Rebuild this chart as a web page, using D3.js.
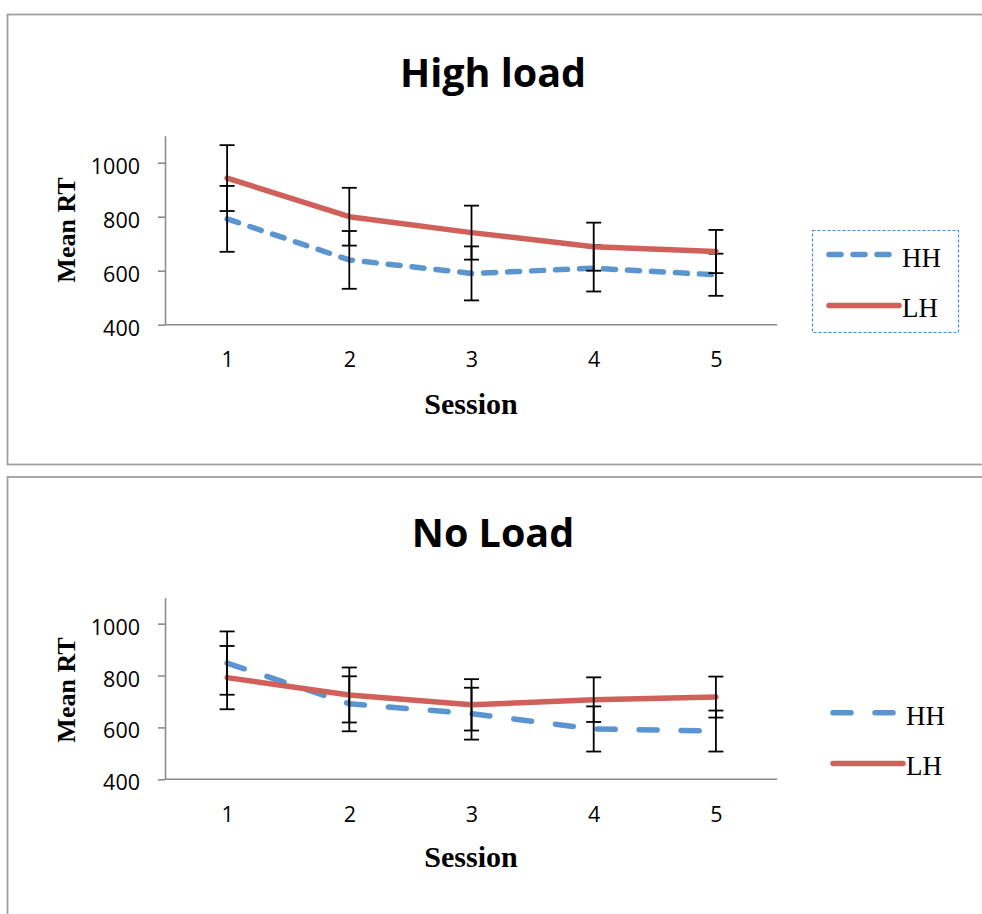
<!DOCTYPE html>
<html>
<head>
<meta charset="utf-8">
<script src="https://cdn.jsdelivr.net/npm/d3@7"></script>
<style>
  html, body { margin: 0; padding: 0; background: #fff; }
  svg { display: block; }
</style>
</head>
<body>
<svg id="chart" width="982" height="914"></svg>
<script>
// Mean reaction times per session, with error bar half-widths
const sessions = [1, 2, 3, 4, 5];
const yTicks = [400, 600, 800, 1000];
const seriesNames = ["HH", "LH"];

const highHH = [792, 640, 590, 609, 585];
const highLH = [943, 800, 741, 689, 671];
const highHHErr = [122, 107, 100, 86, 78];
const highLHErr = [122, 107, 100, 89, 80];

const noHH = [848, 691, 653, 594, 586];
const noLH = [792, 725, 687, 707, 717];
const noHHErr = [122, 106, 100, 87, 79];
const noLHErr = [122, 106, 99, 86, 79];

const blue = "#5B95CF";
const red = "#CF605A";
const axisGray = "#8C8C8C";

const svg = d3.select("#chart");

const panels = [
  {
    title: "High load",
    hh: highHH, lh: highLH, hhErr: highHHErr, lhErr: highLHErr,
    frameTop: 14.5, frameH: 450,
    titleY: 87,
    yRange: [324.7, 135.7],
    sessionY: 414, meanY: 230,
    hhDash: "12 12",
    legend: { boxed: true, x0: 829, x1: 897, hhY: 254.5, lhY: 305.5, textX: 902, hhTextY: 266.5, lhTextY: 316.5,
              box: [812, 230, 146, 102] }
  },
  {
    title: "No Load",
    hh: noHH, lh: noLH, hhErr: noHHErr, lhErr: noLHErr,
    frameTop: 477, frameH: 500,
    titleY: 546.5,
    yRange: [779.3, 597.7],
    sessionY: 867, meanY: 690,
    hhDash: "18 24",
    legend: { boxed: false, x0: 833, x1: 901, hhY: 712.7, lhY: 763.5, textX: 906, hhTextY: 725, lhTextY: 775 }
  }
];

const x = d3.scalePoint().domain(sessions).range([166, 777]).padding(0.5);

panels.forEach(p => {
  const g = svg.append("g");

  // chart frame (runs past the right edge)
  g.append("rect")
    .attr("x", 7.5).attr("y", p.frameTop)
    .attr("width", 1000).attr("height", p.frameH)
    .attr("fill", "none").attr("stroke", "#A0A0A0").attr("stroke-width", 1.8);

  const y = d3.scaleLinear().domain([400, 1100]).range(p.yRange);

  // title
  g.append("text")
    .attr("x", 493).attr("y", p.titleY)
    .attr("text-anchor", "middle")
    .attr("font-family", "'Open Sans', sans-serif")
    .attr("font-weight", 700)
    .attr("font-size", 39.5)
    .attr("fill", "#000")
    .text(p.title);

  // y axis
  const yAxis = g.append("g")
    .attr("transform", `translate(165,0)`)
    .call(d3.axisLeft(y).tickValues(yTicks).tickFormat(d3.format("d"))
      .tickSize(7).tickSizeOuter(0).tickPadding(18));
  yAxis.select(".domain").attr("stroke", axisGray).attr("stroke-width", 1.6);
  yAxis.selectAll(".tick line").attr("stroke", axisGray).attr("stroke-width", 1.6);
  yAxis.selectAll(".tick text")
    .attr("dy", "0.49em")
    .attr("font-family", "'Open Sans', sans-serif")
    .attr("font-size", 21.5)
    .attr("fill", "#000");

  // x axis
  const xAxis = g.append("g")
    .attr("transform", `translate(0,${p.yRange[0]})`)
    .call(d3.axisBottom(x).tickSize(0).tickSizeOuter(0).tickPadding(27));
  xAxis.select(".domain").attr("stroke", axisGray).attr("stroke-width", 1.6)
    .attr("d", `M165,0H777`);
  xAxis.selectAll(".tick text")
    .attr("font-family", "'Open Sans', sans-serif")
    .attr("font-size", 21.5)
    .attr("fill", "#000");

  // axis titles
  g.append("text")
    .attr("transform", `translate(75,${p.meanY}) rotate(-90)`)
    .attr("text-anchor", "middle")
    .attr("font-family", "'Liberation Serif', 'Times New Roman', serif")
    .attr("font-weight", 700)
    .attr("font-size", 26)
    .text("Mean RT");

  g.append("text")
    .attr("x", 471).attr("y", p.sessionY)
    .attr("text-anchor", "middle")
    .attr("font-family", "'Liberation Serif', 'Times New Roman', serif")
    .attr("font-weight", 700)
    .attr("font-size", 30)
    .text("Session");

  const line = d3.line().x((d, i) => x(sessions[i])).y(d => y(d));

  const drawErr = (vals, errs) => {
    const eg = g.append("g").attr("stroke", "#000").attr("stroke-width", 1.8);
    vals.forEach((v, i) => {
      const cx = x(sessions[i]);
      const hi = y(v + errs[i]), lo = y(v - errs[i]);
      eg.append("line").attr("x1", cx).attr("x2", cx).attr("y1", hi).attr("y2", lo);
      eg.append("line").attr("x1", cx - 7.5).attr("x2", cx + 7.5).attr("y1", hi).attr("y2", hi);
      eg.append("line").attr("x1", cx - 7.5).attr("x2", cx + 7.5).attr("y1", lo).attr("y2", lo);
    });
  };

  // HH series (dashed) and its error bars
  g.append("path").datum(p.hh)
    .attr("d", line)
    .attr("fill", "none").attr("stroke", blue).attr("stroke-width", 5.5)
    .attr("stroke-dasharray", p.hhDash).attr("stroke-linecap", "round").attr("stroke-linejoin", "round");
  drawErr(p.hh, p.hhErr);

  // LH series (solid) and its error bars
  g.append("path").datum(p.lh)
    .attr("d", line)
    .attr("fill", "none").attr("stroke", red).attr("stroke-width", 5.5)
    .attr("stroke-linecap", "round").attr("stroke-linejoin", "round");
  drawErr(p.lh, p.lhErr);

  // legend
  const L = p.legend;
  const lg = g.append("g");
  if (L.boxed) {
    lg.append("rect")
      .attr("x", L.box[0] + 0.5).attr("y", L.box[1] + 0.5)
      .attr("width", L.box[2]).attr("height", L.box[3])
      .attr("fill", "none").attr("stroke", "#4A86D6").attr("stroke-width", 1.2)
      .attr("stroke-dasharray", "3 2");
  }
  lg.append("line")
    .attr("x1", L.x0).attr("x2", L.x1).attr("y1", L.hhY).attr("y2", L.hhY)
    .attr("stroke", blue).attr("stroke-width", 5.5)
    .attr("stroke-dasharray", p.hhDash).attr("stroke-linecap", "round");
  lg.append("line")
    .attr("x1", L.x0).attr("x2", L.x1 + 2).attr("y1", L.lhY).attr("y2", L.lhY)
    .attr("stroke", red).attr("stroke-width", 5.5).attr("stroke-linecap", "round");
  lg.append("text")
    .attr("x", L.textX).attr("y", L.hhTextY)
    .attr("font-family", "'Liberation Serif', 'Times New Roman', serif")
    .attr("font-size", 27)
    .text(seriesNames[0]);
  lg.append("text")
    .attr("x", L.textX).attr("y", L.lhTextY)
    .attr("font-family", "'Liberation Serif', 'Times New Roman', serif")
    .attr("font-size", 27)
    .text(seriesNames[1]);
});
</script>
</body>
</html>
